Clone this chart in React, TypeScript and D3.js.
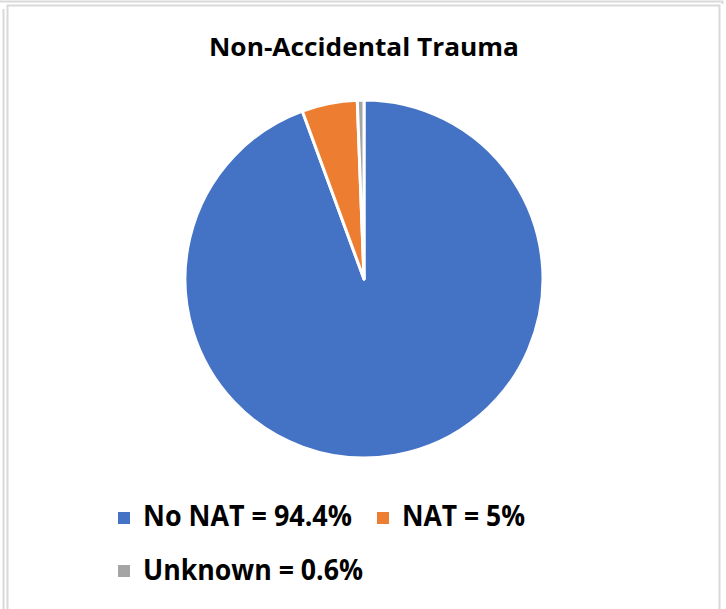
import React from "react";
import * as d3 from "d3";

const categories = ["No NAT", "NAT", "Unknown"];
const values = [94.4, 5, 0.6];
const legendLabels = ["No NAT = 94.4%", "NAT = 5%", "Unknown = 0.6%"];
const colors = ["#4472C4", "#ED7D31", "#A5A5A5"];

const W = 726;
const H = 609;

export default function App() {
  const cx = 364;
  const cy = 279;
  const r = 179;
  const pie = d3.pie<number>().sort(null).value((d) => d)(values);
  const arc = d3.arc<d3.PieArcDatum<number>>().innerRadius(0).outerRadius(r);

  const font = "'Open Sans', 'DejaVu Sans', sans-serif";
  const legend = [
    { x: 118, y: 512, tx: 143, ty: 526, len: 209 },
    { x: 377, y: 512, tx: 402, ty: 526, len: 123 },
    { x: 118, y: 565, tx: 143, ty: 580, len: 220 },
  ];

  return (
    <svg
      width={W}
      height={H}
      style={{ position: "absolute", left: 0, top: 0, background: "#fff" }}
    >
      <rect x={0} y={0} width={W} height={H} fill="#ffffff" />
      {/* frame lines */}
      <path d="M0,1.5 H722.5 V4" fill="none" stroke="#d9d9d9" strokeWidth={2} />
      <path d="M3.5,9 V609" fill="none" stroke="#d9d9d9" strokeWidth={2} />
      <path d="M7.5,609 V5.5 H719.5 V609" fill="none" stroke="#d9d9d9" strokeWidth={2} />

      <text
        x={364}
        y={56}
        textAnchor="middle"
        fontFamily={font}
        fontWeight="bold"
        fontSize={25}
        fill="#000"
        textLength={310}
        lengthAdjust="spacingAndGlyphs"
      >
        Non-Accidental Trauma
      </text>

      <g transform={`translate(${cx},${cy})`}>
        {pie.map((p, i) => (
          <path
            key={categories[i]}
            d={arc(p) || ""}
            fill={colors[i]}
            stroke="#ffffff"
            strokeWidth={3}
            strokeLinejoin="round"
          />
        ))}
      </g>

      {legend.map((l, i) => (
        <g key={categories[i]}>
          <rect x={l.x} y={l.y} width={12} height={12} fill={colors[i]} />
          <text
            x={l.tx}
            y={l.ty}
            fontFamily={font}
            fontWeight="bold"
            fontSize={28}
            fill="#000"
            textLength={l.len}
            lengthAdjust="spacingAndGlyphs"
          >
            {legendLabels[i]}
          </text>
        </g>
      ))}
    </svg>
  );
}
